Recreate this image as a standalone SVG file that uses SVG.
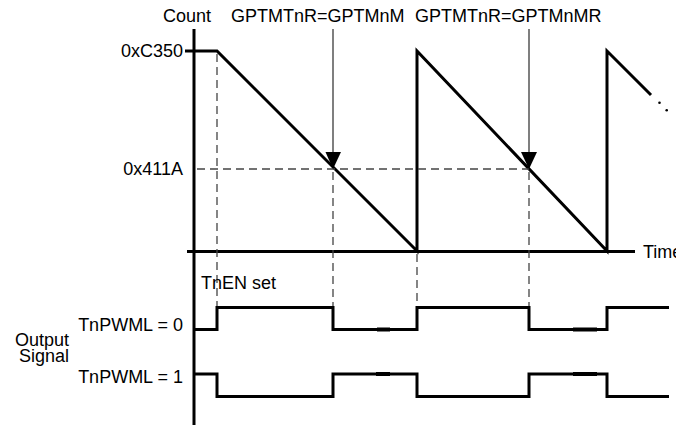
<svg xmlns="http://www.w3.org/2000/svg" width="676" height="430" viewBox="0 0 676 430">
<style>
text{font-family:"Liberation Sans",Arial,sans-serif;font-size:18px;fill:#000}
.thick{stroke:#000;stroke-width:3;fill:none}
.dash{stroke:#444;stroke-width:1.3;stroke-dasharray:8 5;fill:none}
.ptr{stroke:#555;stroke-width:1.5;fill:none}
.mark{stroke:#000;stroke-width:4;fill:none}
</style>
<rect width="676" height="430" fill="#fff"/>
<g id="axes">
<line class="thick" x1="194" y1="29" x2="194" y2="425"/>
<line class="thick" x1="187" y1="251.5" x2="635" y2="251.5"/>
<line class="thick" x1="185" y1="51" x2="194" y2="51"/>
<text x="643" y="257.5">Time</text>
<text x="163" y="22">Count</text>
<text x="183" y="57" text-anchor="end">0xC350</text>
<text x="183" y="175" text-anchor="end">0x411A</text>
</g>
<g id="count-ramp">
<polyline class="thick" points="194,51 217,51 417,251 417,51 607,251 607,51 651,95"/>
<circle cx="659.5" cy="102.7" r="1.3" fill="#000"/>
<circle cx="666.7" cy="110.3" r="1.3" fill="#000"/>
</g>
<g id="connectors">
<line class="dash" x1="197" y1="169" x2="529" y2="169"/>
<line class="dash" x1="217" y1="54" x2="217" y2="307"/>
<line class="dash" x1="333" y1="172" x2="333" y2="307"/>
<line class="dash" x1="417" y1="254" x2="417" y2="307"/>
<line class="dash" x1="529" y1="172" x2="529" y2="307"/>
<line class="ptr" x1="333" y1="29" x2="333" y2="153"/>
<polygon points="325.5,152 341,152 333,169" fill="#000"/>
<line class="ptr" x1="529" y1="29" x2="529" y2="153"/>
<polygon points="521,152 537,152 529,169" fill="#000"/>
</g>
<g id="label-match">
<text x="231" y="22">GPTMTnR=GPTMnM</text>
</g>
<g id="label-reload">
<text x="415" y="22">GPTMTnR=GPTMnMR</text>
</g>
<g id="tnen">
<text x="201" y="289">TnEN set</text>
</g>
<g id="output-label">
<text x="69" y="346" text-anchor="end">Output</text>
<text x="69" y="362" text-anchor="end">Signal</text>
</g>
<g id="signal-pwml0">
<text x="183" y="330.5" text-anchor="end">TnPWML = 0</text>
<polyline class="thick" points="194,329.5 217,329.5 217,307.5 333,307.5 333,329.5 417,329.5 417,307.5 529,307.5 529,329.5 607,329.5 607,307.5 669,307.5"/>
<line class="mark" x1="377" y1="329.5" x2="390" y2="329.5"/>
<line class="mark" x1="573" y1="329.5" x2="597" y2="329.5"/>
</g>
<g id="signal-pwml1">
<text x="183" y="383" text-anchor="end">TnPWML = 1</text>
<polyline class="thick" points="194,374 217,374 217,396.5 333,396.5 333,374 417,374 417,396.5 529,396.5 529,374 607,374 607,396.5 669,396.5"/>
<line class="mark" x1="376" y1="374" x2="390" y2="374"/>
<line class="mark" x1="573" y1="374" x2="597" y2="374"/>
</g>
</svg>
